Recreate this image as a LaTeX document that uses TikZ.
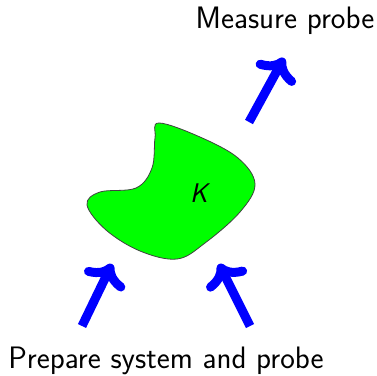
\documentclass[tikz,border=0pt]{standalone}
\usepackage{tikz}
\usetikzlibrary{arrows.meta}

\begin{document}
\begin{tikzpicture}[x=1pt, y=-1pt,
  probe/.style={line width=9pt, blue, -{To[round]}},
  label/.style={font=\fontsize{31}{36}\selectfont\sffamily, inner sep=0pt}]
  \useasboundingbox (0,0) rectangle (377,375);
  % the system
  \draw[fill=green, draw=black!75, line width=0.8pt] plot[smooth cycle, tension=0.6] coordinates
    {(159,123) (200,137) (238,158) (255,184) (240,212) (205,243) (177,259)
     (140,251) (106,230) (87,205) (100,192) (136,188) (152,168) (155,138)};
  \node (K) at (199,193) {\fontsize{27}{32}\selectfont\sffamily\itshape K};
  % labels
  \node[label, anchor=base] (meas) at (285,28) {Measure probe};
  \node[label, anchor=base] (prep) at (166,368) {Prepare system and probe};
  % probes
  \coordinate (outA) at (249,122);
  \coordinate (outB) at (284,58);
  \coordinate (inLA) at (82,326);
  \coordinate (inLB) at (112,264);
  \coordinate (inRA) at (250,326);
  \coordinate (inRB) at (219,264);
  \draw[probe] (outA) -- (outB);
  \draw[probe] (inLA) -- (inLB);
  \draw[probe] (inRA) -- (inRB);
\end{tikzpicture}
\end{document}
